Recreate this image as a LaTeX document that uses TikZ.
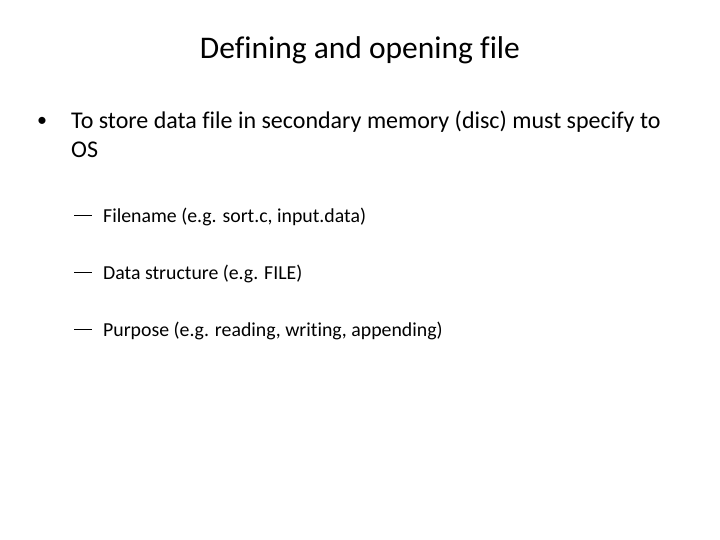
\documentclass[tikz,border=0pt]{standalone}
\usepackage{fontspec}
\setmainfont[Ligatures=NoCommon]{Carlito}
\begin{document}
\begin{tikzpicture}[x=1pt,y=-1pt,
  title/.style={font=\fontsize{31.5}{36}\selectfont},
  lvl1/.style={anchor=west,font=\fontsize{24}{28}\selectfont,inner sep=0},
  lvl2/.style={anchor=west,font=\fontsize{19.8}{22}\selectfont,inner sep=0}]
\useasboundingbox[fill=white] (0,0) rectangle (720,540);
\node[title] (t) at (360,50) {Defining and opening file};
\node[lvl1,font=\fontsize{20}{24}\selectfont] (b) at (37,122) {•};
\node[lvl1] (l1) at (71,122) {To store data file in secondary memory (disc) must specify to};
\node[lvl1] (l1b) at (71,150) {OS};
\node[lvl2] (d1) at (74,217) {\rule[3pt]{18pt}{1.6pt}};
\node[lvl2] (s1) at (103,217) {Filename (e.g. sort.c, input.data)};
\node[lvl2] (d2) at (74,274) {\rule[3pt]{18pt}{1.6pt}};
\node[lvl2] (s2) at (103,274) {Data structure (e.g. FILE)};
\node[lvl2] (d3) at (74,331) {\rule[3pt]{18pt}{1.6pt}};
\node[lvl2] (s3) at (103,331) {Purpose (e.g. reading, writing, appending)};
\end{tikzpicture}
\end{document}
